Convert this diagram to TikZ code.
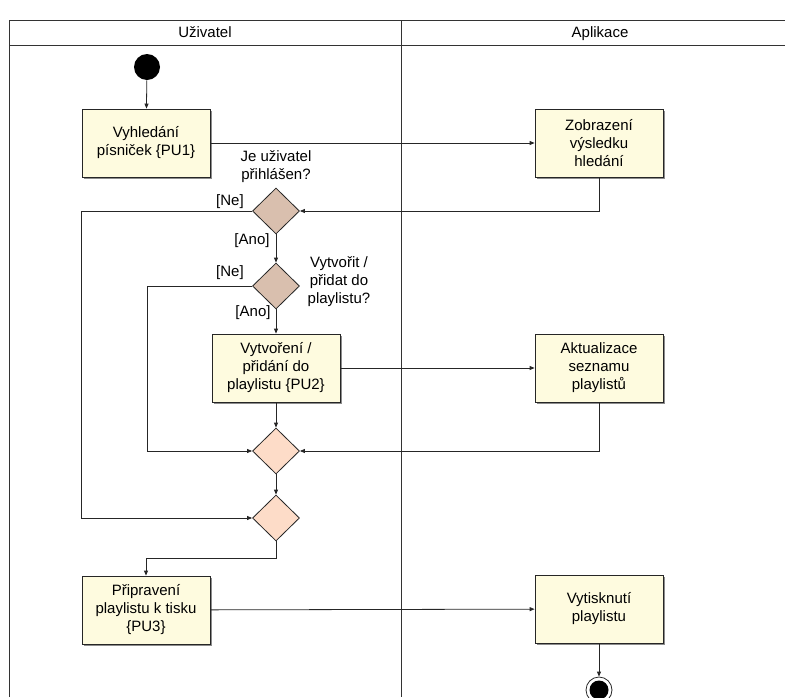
\documentclass[tikz,border=0pt]{standalone}
\usepackage{fontspec}
\setmainfont{Liberation Sans}
\usetikzlibrary{shapes.geometric,arrows.meta,shadows}

\definecolor{boxfill}{HTML}{FEFBDF}
\definecolor{decfill}{HTML}{D9BFAE}
\definecolor{mergefill}{HTML}{FDDCC8}

\begin{document}
\begin{tikzpicture}[x=1pt, y=-1pt, line width=0.8pt, every node/.style={font=\fontsize{15}{18}\selectfont},
    activity/.style={draw=black!85, fill=boxfill, minimum width=128pt, minimum height=68pt,
        align=center, inner sep=0pt,
        drop shadow={shadow xshift=1.5pt, shadow yshift=-1.5pt, fill=black!45, opacity=1}},
    decision/.style={diamond, draw=black!85, fill=decfill, minimum width=47pt, minimum height=46pt,
        inner sep=0pt, aspect=1},
    merge/.style={decision, fill=mergefill},
    flow/.style={draw=black!85, -{Triangle[length=5pt,width=4pt]}},
    guard/.style={inner sep=0pt, align=center}]

    \useasboundingbox (0,0) rectangle (785,697);
    \clip (0,0) rectangle (785,697);

    % Swimlanes
    \draw[black!80] (9,697) -- (9,20) -- (785,20);
    \draw[black!80] (9,45) -- (785,45);
    \draw[black!80] (401,20) -- (401,697);
    \node[anchor=base] (lane1) at (205,37) {Uživatel};
    \node[anchor=base] (lane2) at (600,37) {Aplikace};

    % Start
    \fill (147,67) circle (13);
    \node[circle, minimum size=26pt, inner sep=0pt] (startnode) at (147,67) {};

    % Activities
    \node[activity] (hledani) at (146,143) {Vyhledání\\písniček \{PU1\}};
    \node[activity] (zobrazeni) at (599,143) {Zobrazení\\výsledku\\hledání};
    \node[activity] (pridani) at (276,368) {Vytvoření /\\přidání do\\playlistu \{PU2\}};
    \node[activity] (aktualizace) at (599,368) {Aktualizace\\seznamu\\playlistů};
    \node[activity] (priprava) at (146,610) {Připravení\\playlistu k tisku\\\{PU3\}};
    \node[activity] (tisk) at (599,609) {Vytisknutí\\playlistu};

    % Decisions and merges
    \node[decision] (prihlasen) at (276,211) {};
    \node[decision] (vytvorit) at (276,286) {};
    \node[merge] (merge1) at (276,451) {};
    \node[merge] (merge2) at (276,518) {};

    % Questions and guards
    \node[guard] (q1) at (276,167) {Je uživatel\\přihlášen?};
    \node[guard] (q2) at (339,282) {Vytvořit /\\přidat do\\playlistu?};
    \node[guard] (ne1) at (230,202) {[Ne]};
    \node[guard] (ano1) at (252,241) {[Ano]};
    \node[guard] (ne2) at (230,273) {[Ne]};
    \node[guard] (ano2) at (253,313) {[Ano]};

    % End
    \draw[black!85, fill=white] (599,690) circle (13);
    \fill (599,690) circle (9.5);
    \node[circle, minimum size=26pt, inner sep=0pt] (end) at (599,690) {};

    % Flows
    \draw[flow] (startnode) -- (hledani);
    \draw[flow] (hledani) -- (zobrazeni);
    \draw[flow] (zobrazeni.south) |- (prihlasen.east);
    \draw[flow] (prihlasen.west) -- (prihlasen.west -| hledani.west) |- (merge2.west);
    \draw[flow] (prihlasen) -- (vytvorit);
    \draw[flow] (vytvorit.west) -- (vytvorit.west -| startnode) |- (merge1.west);
    \draw[flow] (vytvorit) -- (pridani);
    \draw[flow] (pridani) -- (aktualizace);
    \draw[flow] (aktualizace.south) |- (merge1.east);
    \draw[flow] (pridani) -- (merge1);
    \draw[flow] (merge1) -- (merge2);
    \coordinate (ohyb) at (276,558);
    \draw[flow] (merge2.south) -- (ohyb) -| (priprava.north);
    \draw[flow] (priprava) -- (tisk);
    \draw[flow] (tisk) -- (end);

\end{tikzpicture}
\end{document}
